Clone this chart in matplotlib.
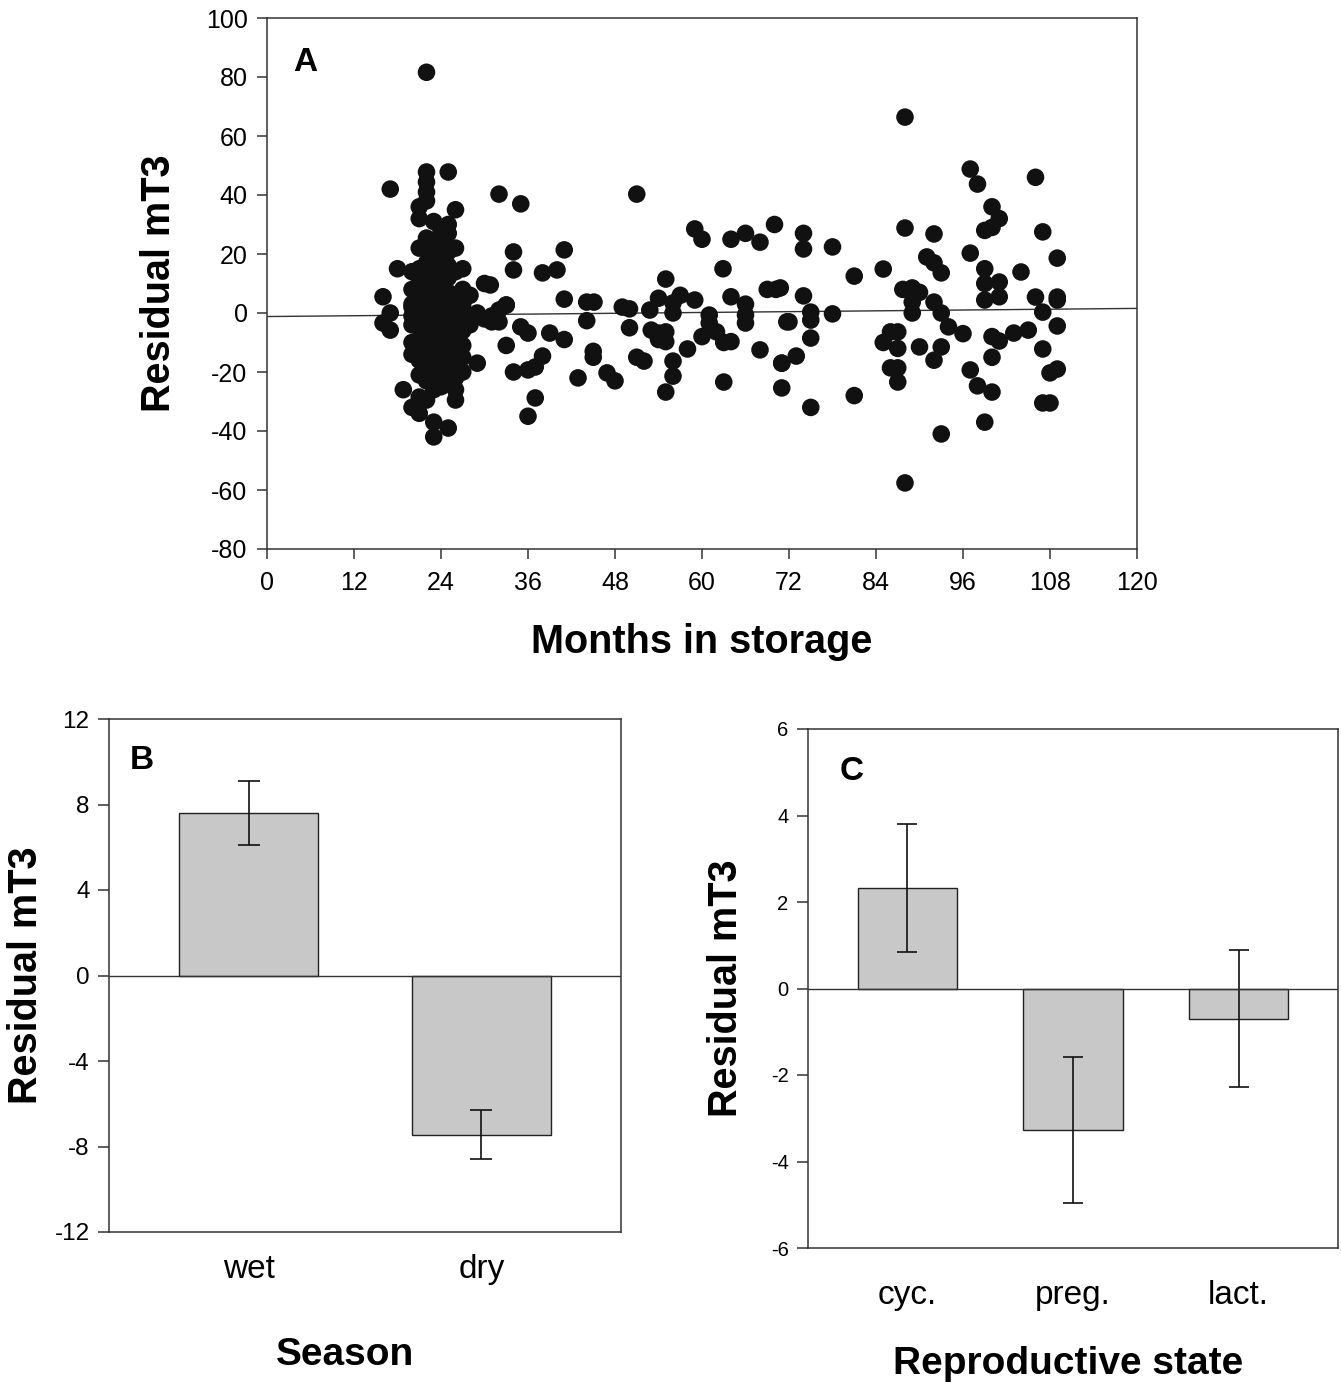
import matplotlib.pyplot as plt
import numpy as np

plt.rcParams['font.family'] = ['Liberation Sans', 'DejaVu Sans']
plt.rcParams['axes.linewidth'] = 1.1
plt.rcParams['axes.edgecolor'] = '#333333'
plt.rcParams['axes.unicode_minus'] = False

# panel A: residual mT3 vs months in storage
months = [
    16, 16, 17, 17, 17, 18, 18.8, 20, 29, 30, 29, 30, 31, 32, 33, 31, 32, 30.8, 22,
    # dense cluster 20-28 months
    20, 20, 20, 20, 20, 20, 20, 20,
    21, 21, 21, 21, 21, 21, 21, 21, 21, 21, 21, 21, 21, 21, 21,
    22, 22, 22, 22, 22, 22, 22, 22, 22, 22, 22, 22, 22, 22, 22, 22, 22, 22,
    23, 23, 23, 23, 23, 23, 23, 23, 23, 23, 23, 23, 23, 23,
    24, 24, 24, 24, 24, 24, 24, 24, 24, 24, 24, 24, 24, 24,
    25, 25, 25, 25, 25, 25, 25, 25, 25, 25, 25, 25, 25, 25, 25,
    26, 26, 26, 26, 26, 26, 26, 26, 26, 26, 26, 26,
    27, 27, 27, 27, 27, 27, 27, 27,
    28, 28, 28,
    # 32-72 months
    32, 35, 51, 59, 60, 64, 66, 68, 70, 34, 34, 41, 38, 40, 55, 62.9, 69, 70.2,
    33, 41, 44.1, 45.1, 49, 50, 54, 56, 57, 59, 52.8, 56, 64, 66, 66, 66, 71.7,
    61, 61, 35, 36, 39, 41, 44.1, 50, 53, 54, 55, 54, 55, 60, 62, 63, 64, 33,
    58, 68, 45, 45, 38, 51, 52, 56, 71, 34, 36, 37, 42.9, 46.9, 48, 56, 55, 63,
    71, 37, 36,
    # 72-110 months
    88, 97, 98, 106, 100, 101, 100, 99, 88, 92, 107, 74, 74, 78, 97, 91, 92, 93,
    109, 81, 85, 104, 99, 99, 101, 99, 101, 70.8, 74, 87.7, 89, 90, 89, 89, 92,
    93, 94, 106, 109, 109, 107, 75, 75, 78, 72, 109, 96, 100, 101, 103, 105, 86,
    87, 85, 87, 90, 93, 92, 75, 73, 71, 107, 100, 86, 87, 87, 97, 98, 100, 108,
    109, 81, 75, 107, 108, 99, 93, 88,
]
resid = [
    5.5, -3.4, 0, -5.8, 42, 15, -26, -32, -17, 10, 0, -2, -1, 1, 2.7, -3, -3, 9.5, 81.6,
    8, 3, -1, -4, -10, -14, 2, 14,
    36, 32, 15, 10, 5, 0, -5, -9, -12, -16, -21, -28.5, -34, 22, 2,
    47.8, 44.4, 41, 38, 25.4, 21.4, 17, 12, 8, 4, 0, -3, -7, -11, -15, -19, -23, -29.5,
    31, 19, 14, 9, 5, 1, -3, -8, -12, -17, -22, -26, -37, -42,
    28, 24, 18, 13, 8, 3, -1, -6, -10, -14, -18, -22, -25, 11,
    47.8, 30, 27, 20.7, 16, 12, 7, 2, -2, -7, -11, -15, -20, -24, -39,
    35, 22, 14, 6, 1, -4, -9, -13, -18, -22, -29.5, -26,
    15, 8, 3, -2, -6, -11, -15, -20,
    -1, -4, 6,
    40.3, 37, 40.3, 28.5, 25, 25, 27, 24, 30, 20.7, 14.6, 21.4, 13.6, 14.6, 11.5, 15, 8, 8,
    2.7, 4.7, 3.7, 3.7, 2, 1.4, 5, 3.4, 6, 4.4, 1, 0, 5.5, 3, -0.7, -3.4, -3,
    -0.7, -3.4, -4.7, -6.8, -6.8, -9, -2.6, -5, -5.8, -6.8, -6.4, -9, -9.7, -8, -6.4, -10, -9.7, -11,
    -12.2, -12.5, -13, -15, -14.6, -15, -16.3, -16.3, -17, -20, -19.3, -18.3, -22, -20.3, -23, -21.4, -26.8, -23.4,
    -25.4, -28.8, -35,
    66.4, 48.8, 43.7, 46, 36, 32, 29, 28, 28.8, 26.8, 27.5, 27, 21.7, 22.4, 20.3, 19, 17, 13.6,
    18.6, 12.5, 14.9, 13.9, 15, 10, 10.5, 4.4, 5.5, 8.5, 5.8, 8, 8.5, 7, 3.7, 0, 3.7,
    0, -4.7, 5.4, 5.4, 4.4, 0.3, 0.3, -2.4, -0.3, -3, -4.4, -7, -8, -9.5, -6.8, -5.8, -6.4,
    -6.4, -10, -12, -11.5, -11.5, -16, -8.5, -14.6, -17, -12.2, -15, -18.6, -18.6, -23.4, -19.3, -24.7, -26.8, -20.3,
    -19, -28, -32, -30.5, -30.5, -37, -41, -57.6,
]
fit_intercept = -1.2
fit_slope = 0.023

# panel B: season
seasons = ['wet', 'dry']
season_mean = [7.6, -7.45]
season_se = [1.5, 1.15]

# panel C: reproductive state
states = ['cyc.', 'preg.', 'lact.']
state_mean = [2.33, -3.27, -0.7]
state_se = [1.48, 1.68, 1.58]

W, H = 1341, 1385
fig = plt.figure(figsize=(W / 100, H / 100), dpi=100)

axA = fig.add_axes([267 / W, 1 - 549 / H, 870 / W, 531 / H])
axB = fig.add_axes([109 / W, 1 - 1232 / H, 512 / W, 513 / H])
axC = fig.add_axes([808 / W, 1 - 1248 / H, 530 / W, 519 / H])

# --- A ---
axA.scatter(months, resid, s=160, color='#111111', edgecolors='none', zorder=3)
xx = np.array([0, 120])
axA.plot(xx, fit_intercept + fit_slope * xx, color='#333333', lw=1.0, zorder=2)
axA.set_xlim(0, 120)
axA.set_ylim(-80, 100)
axA.set_xticks(np.arange(0, 121, 12))
axA.set_yticks(np.arange(-80, 101, 20))
axA.tick_params(labelsize=18, length=7, width=1.1, pad=7, color='#333333')
axA.tick_params(axis='x', pad=9)
axA.set_xlabel('Months in storage', fontsize=28.5, fontweight='bold')
axA.set_ylabel('Residual mT3', fontsize=28.5, fontweight='bold')
axA.xaxis.set_label_coords(0.5, -0.14)
axA.yaxis.set_label_coords(-0.102, 0.5)
axA.text(0.03, 0.917, 'A', transform=axA.transAxes, fontsize=24,
         fontweight='bold', va='center')

# --- B ---
xb = np.arange(len(seasons))
axB.bar(xb, season_mean, width=0.6, color='#c8c8c8', edgecolor='#222222', lw=1.0)
axB.errorbar(xb, season_mean, yerr=season_se, fmt='none', ecolor='#111111',
             elinewidth=1.2, capsize=8, capthick=1.2)
axB.axhline(0, color='#333333', lw=1.0)
axB.set_xlim(-0.6, 1.6)
axB.set_ylim(-12, 12)
axB.set_yticks(np.arange(-12, 13, 4))
axB.set_xticks(xb)
axB.set_xticklabels(seasons)
axB.tick_params(axis='y', labelsize=17.5, length=8, width=1.1, pad=6, color='#333333')
axB.tick_params(axis='x', labelsize=24, length=0, pad=16)
axB.set_xlabel('Season', fontsize=28, fontweight='bold')
axB.set_ylabel('Residual mT3', fontsize=28.5, fontweight='bold')
axB.xaxis.set_label_coords(0.46, -0.205)
axB.yaxis.set_label_coords(-0.125, 0.5)
axB.text(0.04, 0.92, 'B', transform=axB.transAxes, fontsize=24,
         fontweight='bold', va='center')

# --- C ---
xc = np.arange(len(states))
axC.bar(xc, state_mean, width=0.6, color='#c8c8c8', edgecolor='#222222', lw=1.0)
axC.errorbar(xc, state_mean, yerr=state_se, fmt='none', ecolor='#111111',
             elinewidth=1.2, capsize=7.5, capthick=1.2)
axC.axhline(0, color='#333333', lw=1.0)
axC.set_xlim(-0.6, 2.6)
axC.set_ylim(-6, 6)
axC.set_yticks(np.arange(-6, 7, 2))
axC.set_xticks(xc)
axC.set_xticklabels(states)
axC.tick_params(axis='y', labelsize=14.5, length=8, width=1.1, pad=6, color='#333333')
axC.tick_params(axis='x', labelsize=24, length=0, pad=23)
axC.set_xlabel('Reproductive state', fontsize=28, fontweight='bold')
axC.set_ylabel('Residual mT3', fontsize=28.5, fontweight='bold')
axC.xaxis.set_label_coords(0.49, -0.188)
axC.yaxis.set_label_coords(-0.119, 0.5)
axC.text(0.06, 0.919, 'C', transform=axC.transAxes, fontsize=24,
         fontweight='bold', va='center')

fig.savefig('out.png', dpi=100)
